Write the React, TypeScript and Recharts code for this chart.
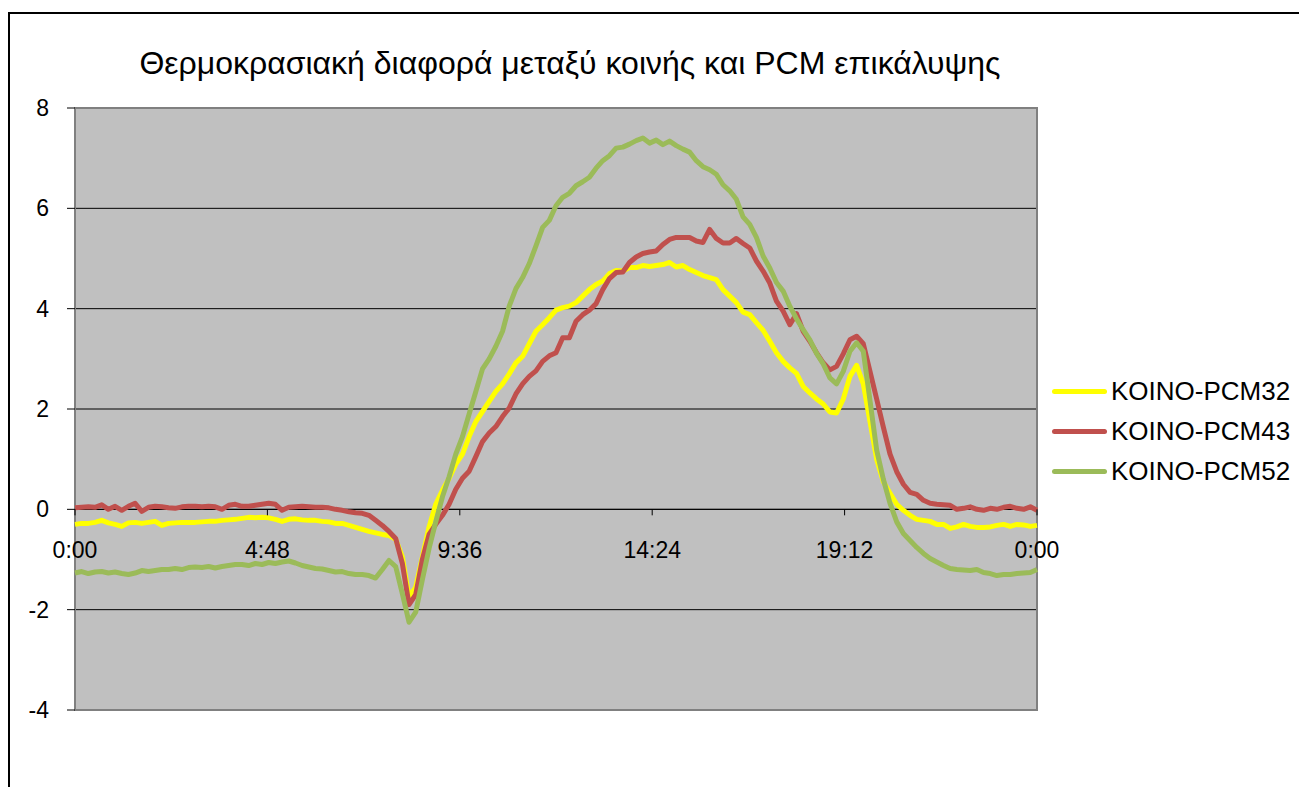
import { LineChart, Line, XAxis, YAxis, CartesianGrid, ReferenceLine, ReferenceArea, Legend } from "recharts"

// one reading every 10 minutes, 0:00 .. 24:00
const minutes = Array.from({ length: 145 }, (_, i) => i * 10)

const pcm32 = [
  -0.30, -0.28, -0.28, -0.26, -0.22, -0.27,
  -0.30, -0.34, -0.27, -0.26, -0.28, -0.26,
  -0.24, -0.32, -0.28, -0.27, -0.26, -0.26,
  -0.26, -0.25, -0.24, -0.24, -0.22, -0.21,
  -0.20, -0.18, -0.16, -0.17, -0.16, -0.17,
  -0.20, -0.24, -0.20, -0.19, -0.21, -0.22,
  -0.22, -0.24, -0.25, -0.28, -0.28, -0.32,
  -0.36, -0.40, -0.44, -0.47, -0.50, -0.52,
  -0.60, -0.95, -1.75, -1.55, -0.95, -0.35,
  0.10, 0.38, 0.62, 0.90, 1.10, 1.45,
  1.75, 1.95, 2.15, 2.35, 2.50, 2.70,
  2.92, 3.05, 3.30, 3.55, 3.68, 3.82,
  3.97, 4.02, 4.05, 4.12, 4.25, 4.38,
  4.48, 4.55, 4.70, 4.76, 4.75, 4.82,
  4.82, 4.86, 4.84, 4.86, 4.88, 4.92,
  4.83, 4.86, 4.78, 4.72, 4.66, 4.62,
  4.58, 4.38, 4.25, 4.12, 3.93, 3.88,
  3.72, 3.57, 3.35, 3.12, 2.95, 2.82,
  2.71, 2.45, 2.32, 2.20, 2.10, 1.94,
  1.92, 2.20, 2.65, 2.87, 2.50, 1.75,
  1.00, 0.55, 0.32, 0.10, -0.02, -0.12,
  -0.20, -0.22, -0.24, -0.30, -0.30, -0.38,
  -0.35, -0.30, -0.34, -0.36, -0.36, -0.35,
  -0.32, -0.30, -0.34, -0.30, -0.31, -0.34,
  -0.32,
]

const pcm43 = [
  0.03, 0.04, 0.05, 0.04, 0.09, 0.00,
  0.06, -0.02, 0.06, 0.12, -0.04, 0.04,
  0.06, 0.05, 0.03, 0.02, 0.05, 0.06,
  0.06, 0.05, 0.06, 0.05, 0.00, 0.08,
  0.10, 0.06, 0.06, 0.08, 0.10, 0.12,
  0.10, -0.02, 0.04, 0.05, 0.06, 0.05,
  0.04, 0.04, 0.03, 0.00, -0.02, -0.05,
  -0.07, -0.08, -0.12, -0.22, -0.32, -0.44,
  -0.58, -1.08, -1.90, -1.70, -1.00, -0.50,
  -0.30, -0.12, 0.10, 0.40, 0.62, 0.76,
  1.05, 1.35, 1.52, 1.65, 1.85, 2.02,
  2.30, 2.50, 2.65, 2.76, 2.95, 3.06,
  3.12, 3.42, 3.42, 3.75, 3.88, 3.97,
  4.10, 4.38, 4.60, 4.72, 4.73, 4.92,
  5.03, 5.10, 5.13, 5.15, 5.28, 5.38,
  5.42, 5.42, 5.42, 5.35, 5.32, 5.58,
  5.40, 5.31, 5.31, 5.40, 5.30, 5.21,
  4.95, 4.75, 4.51, 4.15, 3.95, 3.68,
  3.90, 3.55, 3.35, 3.12, 2.92, 2.78,
  2.85, 3.10, 3.38, 3.45, 3.30, 2.75,
  2.20, 1.64, 1.10, 0.75, 0.50, 0.34,
  0.30, 0.18, 0.12, 0.10, 0.09, 0.08,
  0.00, 0.02, 0.05, 0.00, -0.02, 0.02,
  0.00, 0.04, 0.06, 0.02, 0.00, 0.05,
  -0.02,
]

const pcm52 = [
  -1.27, -1.24, -1.28, -1.25, -1.24, -1.27,
  -1.25, -1.28, -1.30, -1.27, -1.22, -1.24,
  -1.22, -1.20, -1.20, -1.18, -1.20, -1.16,
  -1.15, -1.16, -1.14, -1.17, -1.14, -1.12,
  -1.10, -1.10, -1.12, -1.08, -1.10, -1.06,
  -1.08, -1.05, -1.03, -1.07, -1.12, -1.15,
  -1.18, -1.19, -1.22, -1.25, -1.24, -1.28,
  -1.30, -1.30, -1.32, -1.37, -1.20, -1.02,
  -1.14, -1.68, -2.25, -2.05, -1.40, -0.78,
  -0.25, 0.25, 0.65, 1.10, 1.45, 1.90,
  2.35, 2.80, 3.00, 3.25, 3.55, 4.05,
  4.40, 4.62, 4.90, 5.25, 5.62, 5.76,
  6.05, 6.22, 6.30, 6.45, 6.53, 6.62,
  6.80, 6.95, 7.05, 7.20, 7.22, 7.28,
  7.35, 7.40, 7.30, 7.36, 7.27, 7.34,
  7.25, 7.18, 7.12, 6.95, 6.83, 6.77,
  6.68, 6.47, 6.35, 6.18, 5.83, 5.68,
  5.42, 5.05, 4.81, 4.52, 4.35, 4.05,
  3.80, 3.58, 3.38, 3.11, 2.90, 2.62,
  2.50, 2.75, 3.15, 3.32, 3.15, 2.17,
  1.18, 0.60, 0.12, -0.25, -0.48, -0.62,
  -0.76, -0.88, -0.98, -1.05, -1.12, -1.18,
  -1.20, -1.21, -1.22, -1.20, -1.26, -1.28,
  -1.32, -1.30, -1.30, -1.28, -1.27, -1.26,
  -1.20,
]

const timeTicks = [0, 288, 576, 864, 1152, 1440]
const valueTicks = [-4, -2, 0, 2, 4, 6, 8]

const series = [
  { key: "pcm32", name: "KOINO-PCM32", color: "#FFFF00" },
  { key: "pcm43", name: "KOINO-PCM43", color: "#C0504D" },
  { key: "pcm52", name: "KOINO-PCM52", color: "#9BBB59" },
]

const data = minutes.map((t, i) => ({ t, pcm32: pcm32[i], pcm43: pcm43[i], pcm52: pcm52[i] }))

const FONT = "'Liberation Sans', Arial, sans-serif"
const W = 1299
const H = 787
const PLOT_LEFT = 75
const PLOT_RIGHT = 1037
const PLOT_TOP = 108
const PLOT_BOTTOM = 710
const Y_MIN = -4
const Y_MAX = 8
// the category axis sits on the zero line, not at the bottom of the plot
const ZERO_Y = PLOT_TOP + ((PLOT_BOTTOM - PLOT_TOP) * Y_MAX) / (Y_MAX - Y_MIN)

const clock = (m: number) => {
  const h = Math.floor(m / 60) % 24
  const mm = Math.round(m % 60)
  return `${h}:${mm < 10 ? "0" : ""}${mm}`
}

function ZeroAxisTick({ x, payload }: any) {
  return (
    <g>
      <line x1={x} x2={x} y1={ZERO_Y} y2={ZERO_Y + 6} stroke="#000" />
      <text x={x} y={ZERO_Y + 49} textAnchor="middle" fontSize={23} fill="#000" fontFamily={FONT}>
        {clock(payload.value)}
      </text>
    </g>
  )
}

function SideLegend({ payload }: any) {
  return (
    <div style={{ fontFamily: FONT, fontSize: 26, color: "#000" }}>
      {(payload || []).map((p: any) => (
        <div key={p.value} style={{ display: "flex", alignItems: "center", height: 40 }}>
          <span style={{ display: "inline-block", width: 55, height: 5, borderRadius: 3, background: p.color, marginRight: 4 }} />
          <span>{p.value}</span>
        </div>
      ))}
    </div>
  )
}

export default function App() {
  return (
    <div style={{ position: "absolute", left: 0, top: 0, width: W, height: H, background: "#fff", overflow: "hidden", fontFamily: FONT }}>
      {/* outer chart frame */}
      <div style={{ position: "absolute", left: 8, top: 12, width: 1400, height: 900, border: "2px solid #000" }} />

      <div style={{ position: "absolute", left: 70, top: 45, width: 1000, textAlign: "center", fontSize: 32, color: "#000" }}>
        Θερμοκρασιακή διαφορά μεταξύ κοινής και PCM επικάλυψης
      </div>

      <LineChart
        width={W}
        height={H}
        data={data}
        margin={{ top: PLOT_TOP, right: W - PLOT_RIGHT, bottom: H - PLOT_BOTTOM - 30, left: 0 }}
        style={{ position: "absolute", left: 0, top: 0, fontFamily: FONT }}
      >
        <CartesianGrid vertical={false} stroke="#000" fill="#C0C0C0" fillOpacity={1} />
        <XAxis
          dataKey="t"
          type="number"
          domain={[0, 1440]}
          ticks={timeTicks}
          axisLine={false}
          tickLine={false}
          height={30}
          tick={<ZeroAxisTick />}
          interval={0}
        />
        <YAxis
          domain={[Y_MIN, Y_MAX]}
          ticks={valueTicks}
          width={PLOT_LEFT}
          axisLine={false}
          tickLine={{ stroke: "#000" }}
          tickSize={8}
          tickMargin={18}
          tick={{ fontSize: 23, fill: "#000" }}
          interval={0}
        />
        <ReferenceArea x1={0} x2={1440} y1={Y_MIN} y2={Y_MAX} fill="none" stroke="#808080" strokeWidth={2} />
        <ReferenceLine y={0} stroke="#000" />
        {/* centred/middle keeps the legend from shrinking the plot; its box is placed by wrapperStyle */}
        <Legend
          layout="vertical"
          align="center"
          verticalAlign="middle"
          content={<SideLegend />}
          wrapperStyle={{ position: "absolute", left: 1052, top: 371, width: 245 }}
        />
        {series.map((s) => (
          <Line
            key={s.key}
            dataKey={s.key}
            name={s.name}
            stroke={s.color}
            strokeWidth={5}
            strokeLinejoin="round"
            dot={false}
            type="linear"
            isAnimationActive={false}
          />
        ))}
      </LineChart>
    </div>
  )
}
